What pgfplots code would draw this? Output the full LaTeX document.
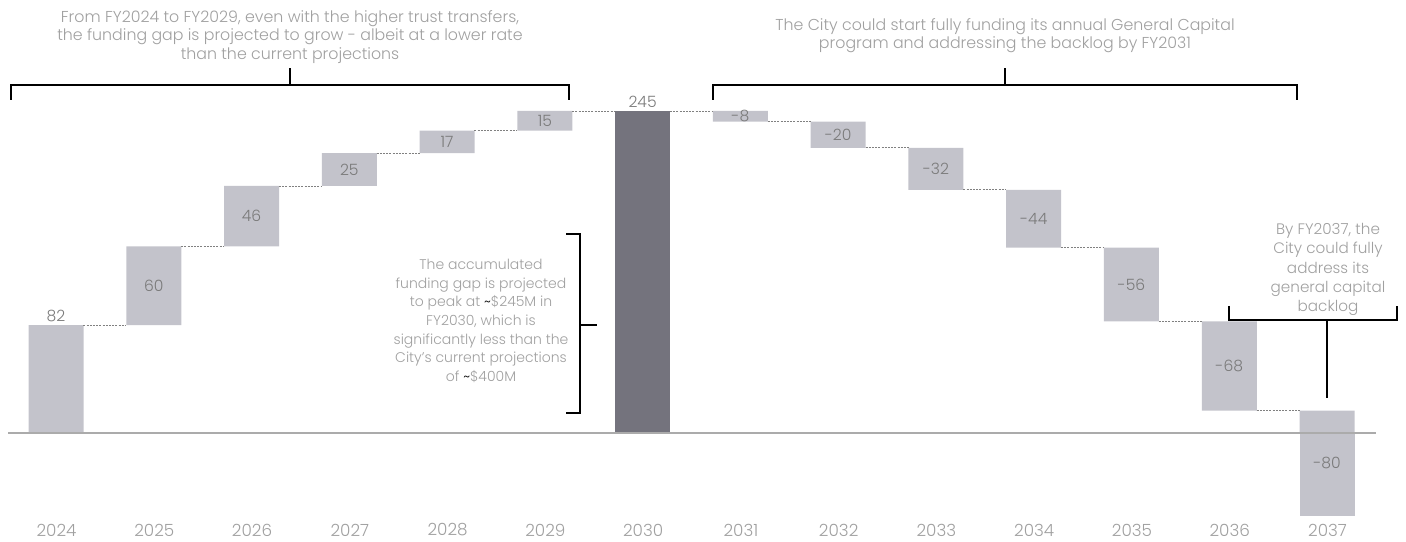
\documentclass[border=0pt]{standalone}
\usepackage{pgfplots}
\pgfplotsset{compat=1.18}
\usepackage{fontspec}
\setmainfont{Poppins}[UprightFont=* Light]
\definecolor{barlight}{HTML}{C3C3CB}
\definecolor{bardark}{HTML}{74737D}
\definecolor{txtgray}{HTML}{A0A0A0}
\definecolor{lblgray}{HTML}{7A7A7A}
\definecolor{zerogray}{HTML}{ABABAB}
\begin{document}
\begin{tikzpicture}
\begin{axis}[
  scale only axis, width=703pt, height=270.5pt,
  xmin=-0.5728, xmax=13.808, ymin=-82.17, ymax=329.45,
  hide axis,
  ybar stacked, bar width=27.5pt,
  clip=false,
]
% invisible base
\addplot[draw=none, fill=none] coordinates {(0,0) (1,82) (2,142) (3,188) (4,213) (5,230) (6,0) (7,237) (8,217) (9,185) (10,141) (11,85) (12,17) (13,0)};
% light increments (2037: positive part here, negative part below)
\addplot[draw=none, fill=barlight] coordinates {(0,82) (1,60) (2,46) (3,25) (4,17) (5,15) (6,0) (7,8) (8,20) (9,32) (10,44) (11,56) (12,68) (13,17)};
% dark total
\addplot[draw=none, fill=bardark] coordinates {(0,0) (1,0) (2,0) (3,0) (4,0) (5,0) (6,245) (7,0) (8,0) (9,0) (10,0) (11,0) (12,0) (13,0)};
\end{axis}
\begin{axis}[
  scale only axis, width=703pt, height=270.5pt,
  xmin=-0.5728, xmax=13.808, ymin=-82.17, ymax=329.45,
  hide axis, clip=false, unbounded coords=jump,
]
% 2037 part below zero (17 - 80 = -63)
\addplot[ybar, bar width=27.5pt, draw=none, fill=barlight] coordinates {(13,-63)};
% zero line
\addplot[zerogray, line width=0.7pt] coordinates {(-0.49,0) (13.5,0)};
% connectors
\addplot[gray, line width=0.35pt, dash pattern=on 1pt off 0.6pt] coordinates {
 (0.28,82) (0.72,82) (nan,nan)
 (1.28,142) (1.72,142) (nan,nan)
 (2.28,188) (2.72,188) (nan,nan)
 (3.28,213) (3.72,213) (nan,nan)
 (4.28,230) (4.72,230) (nan,nan)
 (5.28,245) (5.72,245) (nan,nan)
 (6.28,245) (6.72,245) (nan,nan)
 (7.28,237) (7.72,237) (nan,nan)
 (8.28,217) (8.72,217) (nan,nan)
 (9.28,185) (9.72,185) (nan,nan)
 (10.28,141) (10.72,141) (nan,nan)
 (11.28,85) (11.72,85) (nan,nan)
 (12.28,17) (12.72,17)
};
\begin{scope}[every node/.style={font=\fontsize{7.8}{9}\selectfont, text=lblgray}]
\node[anchor=south, inner sep=1.5pt] at (axis cs:0,82) {82};
\node at (axis cs:1,112) {60};
\node at (axis cs:2,165) {46};
\node at (axis cs:3,200.5) {25};
\node at (axis cs:4,221.5) {17};
\node at (axis cs:5,237.5) {15};
\node[anchor=south, inner sep=1.5pt] at (axis cs:6,245) {245};
\node at (axis cs:7,241) {-8};
\node at (axis cs:8,227) {-20};
\node at (axis cs:9,201) {-32};
\node at (axis cs:10,163) {-44};
\node at (axis cs:11,113) {-56};
\node at (axis cs:12,51) {-68};
\node at (axis cs:13,-23) {-80};
\end{scope}
\end{axis}
% annotations in pixel coordinates
\begin{scope}[x=0.5pt, y=-0.5pt, shift={(0,270.5pt)}]
\foreach \i/\yr in {0/2024,1/2025,2/2026,3/2027,4/2028,5/2029,6/2030,7/2031,8/2032,9/2033,10/2034,11/2035,12/2036,13/2037}{
  \node[font=\fontsize{8.4}{9}\selectfont, text=txtgray] at ({56.5+97.77*\i},530) {\yr};
}
\begin{scope}[line width=1pt, black]
\draw (11,100) -- (11,85) -- (569,85) -- (569,100);
\draw (290,85) -- (290,68);
\draw (713,100) -- (713,85) -- (1297,85) -- (1297,100);
\draw (1005,85) -- (1005,68);
\draw (566,234) -- (580,234) -- (580,413) -- (566,413);
\draw (580,325) -- (597,325);
\draw (1229,306) -- (1229,320) -- (1397,320) -- (1397,306);
\draw (1327,320) -- (1327,398);
\end{scope}
\begin{scope}[every node/.style={font=\fontsize{7.9}{9.3}\selectfont, text=txtgray, align=center}]
\node at (290,37) {From FY2024 to FY2029, even with the higher trust transfers,\\the funding gap is projected to grow - albeit at a lower rate\\than the current projections};
\node at (1005,35.5) {The City could start fully funding its annual General Capital\\program and addressing the backlog by FY2031};
\node[font=\fontsize{7.0}{9.3}\selectfont] at (481,321) {The accumulated\\funding gap is projected\\to peak at \textcolor{black}{\textasciitilde}\$245M in\\FY2030, which is\\significantly less than the\\City’s current projections\\of \textcolor{black}{\textasciitilde}\$400M};
\node[font=\fontsize{7.6}{9.6}\selectfont] at (1328,269.5) {By FY2037, the\\City could fully\\address its\\general capital\\backlog};
\end{scope}
\end{scope}
\pgfresetboundingbox
\path (0,0) rectangle (703pt,270.5pt);
\end{tikzpicture}
\end{document}
